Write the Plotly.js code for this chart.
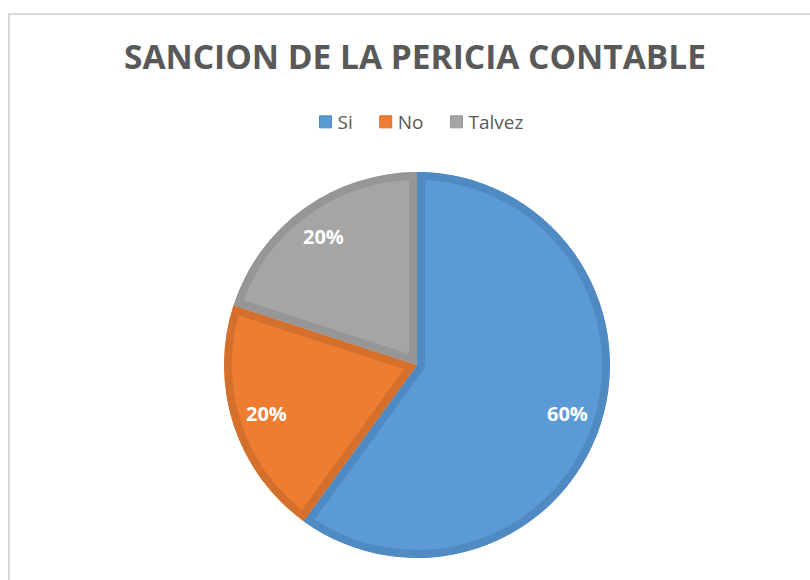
<!DOCTYPE html>
<html>
<head>
<meta charset="utf-8">
<script src="https://cdn.plot.ly/plotly-3.0.1.min.js"></script>
<style>
  html, body { margin: 0; padding: 0; background: #ffffff; overflow: hidden; }
  #chart { width: 810px; height: 580px; }
</style>
</head>
<body>
<div id="chart"></div>
<script>
// ---- data ----
var categories = ['Si', 'No', 'Talvez'];
var values = [60, 20, 20];
var fillColors = ['#5B9BD5', '#ED7D31', '#A5A5A5'];
var borderColors = ['#4F8AC2', '#D4702C', '#969696'];
var chartTitle = 'SANCION DE LA PERICIA CONTABLE';

var W = 810, H = 580;
var cx = 417, cy = 365, R = 193;
var labelRadius = 0.82; // fraction of radius where the data labels sit

var data = [{
  type: 'pie',
  labels: categories,
  values: values,
  sort: false,
  direction: 'clockwise',
  rotation: 0,
  marker: { colors: fillColors, line: { color: borderColors, width: 16 } },
  textinfo: 'none',
  hoverinfo: 'none',
  domain: {
    x: [(cx - R) / W, (cx + R) / W],
    y: [1 - (cy + R) / H, 1 - (cy - R) / H]
  }
}];

// data labels derived from the values (percentages at the slice mid-angles)
var total = values.reduce(function (a, b) { return a + b; }, 0);
var annotations = [];
var cum = 0;
values.forEach(function (v) {
  var mid = (cum + v / 2) / total * 2 * Math.PI; // clockwise from 12 o'clock
  cum += v;
  var px = cx + labelRadius * R * Math.sin(mid);
  var py = cy - labelRadius * R * Math.cos(mid);
  annotations.push({
    xref: 'paper', yref: 'paper',
    x: px / W, y: 1 - py / H,
    xanchor: 'center', yanchor: 'middle',
    text: '<b>' + Math.round(v / total * 100) + '%</b>',
    showarrow: false,
    font: { family: 'Open Sans', size: 20, color: '#ffffff' }
  });
});

var layout = {
  width: W, height: H,
  margin: { l: 0, r: 0, t: 0, b: 0 },
  paper_bgcolor: '#ffffff',
  font: { family: 'Open Sans', color: '#595959' },
  title: {
    text: '<b>' + chartTitle + '</b>',
    font: { family: 'Open Sans', size: 33.5, color: '#595959' },
    x: 415 / W, xanchor: 'center',
    y: 1 - 57 / H, yanchor: 'middle', yref: 'container'
  },
  showlegend: true,
  legend: {
    orientation: 'h',
    x: 413 / W, xanchor: 'center',
    y: 1 - 122 / H, yanchor: 'middle',
    font: { family: 'Open Sans', size: 19, color: '#595959' },
    traceorder: 'normal'
  },
  annotations: annotations,
  shapes: [{
    type: 'rect', xref: 'paper', yref: 'paper',
    x0: 9 / W, x1: 1.05, y0: -0.05, y1: 1 - 14 / H,
    line: { color: '#D9D9D9', width: 2 },
    fillcolor: 'rgba(0,0,0,0)', layer: 'below'
  }]
};

var gd = document.getElementById('chart');
Plotly.newPlot(gd, data, layout, { staticPlot: true, displayModeBar: false }).then(function () {
  try {
    var NS = 'http://www.w3.org/2000/svg';
    var paths = gd.querySelectorAll('g.slice path.surface');
    paths.forEach(function (p, i) {
      var svg = p.ownerSVGElement;
      var defs = svg.querySelector('defs');
      if (!defs) { defs = document.createElementNS(NS, 'defs'); svg.insertBefore(defs, svg.firstChild); }
      var cp = document.createElementNS(NS, 'clipPath');
      cp.setAttribute('id', 'sliceclip' + i);
      var q = document.createElementNS(NS, 'path');
      q.setAttribute('d', p.getAttribute('d'));
      cp.appendChild(q);
      defs.appendChild(cp);
      p.setAttribute('clip-path', 'url(#sliceclip' + i + ')');
    });
    gd.querySelectorAll('.legendpoints path').forEach(function (p) {
      p.style.strokeWidth = '1px';
    });
    gd.querySelectorAll('.legendpoints').forEach(function (g) {
      g.setAttribute('transform', 'translate(8,0)');
    });
  } catch (e) { }
});
</script>
</body>
</html>
